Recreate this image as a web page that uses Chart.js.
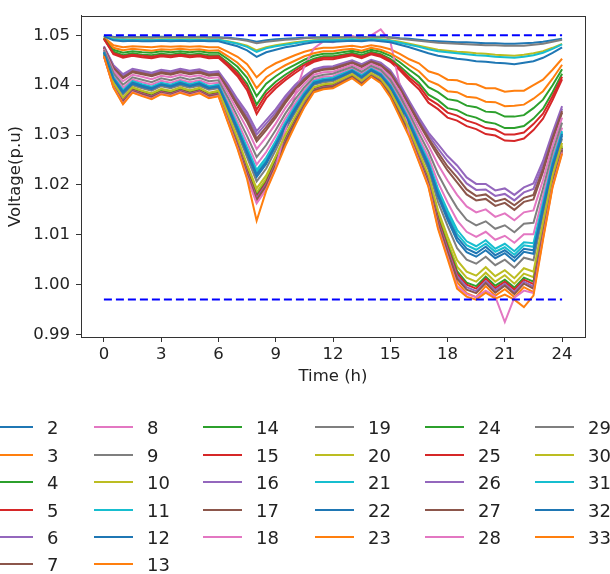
<!DOCTYPE html>
<html>
<head>
<meta charset="utf-8">
<script src="https://cdn.jsdelivr.net/npm/chart.js@4.4.0/dist/chart.umd.min.js"></script>
<style>
  body { margin: 0; background: #fff; width: 610px; height: 574px; overflow: hidden; position: relative;
         font-family: "DejaVu Sans", sans-serif; color: #222; }
  #wrap { position: absolute; left: 0; top: 0; width: 610px; height: 395px; }
  #leyenda { position: absolute; left: 0; top: 0; width: 610px; height: 574px; }
  .item { position: absolute; height: 22px; display: flex; align-items: center; font-size: 18px; white-space: nowrap; }
  .item .linea { display: inline-block; width: 39px; height: 2.5px; margin-right: 14px; }
</style>
</head>
<body>
<div id="wrap"><canvas id="grafico"></canvas></div>
<div id="leyenda"></div>
<script>
// hora del día (h)
const hours = [0, 0.5, 1, 1.5, 2, 2.5, 3, 3.5, 4, 4.5, 5, 5.5, 6, 6.5, 7, 7.5, 8, 8.5, 9, 9.5, 10, 10.5,
  11, 11.5, 12, 12.5, 13, 13.5, 14, 14.5, 15, 15.5, 16, 16.5, 17, 17.5, 18, 18.5, 19, 19.5, 20, 20.5,
  21, 21.5, 22, 22.5, 23, 23.5, 24];

const xTicks = [0, 3, 6, 9, 12, 15, 18, 21, 24];
const yTicks = [0.99, 1.00, 1.01, 1.02, 1.03, 1.04, 1.05];

// límites de tensión (p.u)
const upperLimit = 1.05;
const lowerLimit = 0.997;

// tensión por barra (p.u)
const bus2 = [1.0499,1.0497,1.0496,1.0497,1.0496,1.0496,1.0497,1.0496,1.0497,1.0496,1.0497,1.0496,1.0496,
  1.0495,1.0493,1.0491,1.0487,1.0490,1.0492,1.0493,1.0494,1.0495,1.0496,1.0496,1.0496,
  1.0496,1.0497,1.0496,1.0497,1.0497,1.0496,1.0494,1.0493,1.0491,1.0489,1.0488,1.0487,
  1.0486,1.0486,1.0485,1.0484,1.0484,1.0483,1.0483,1.0484,1.0485,1.0487,1.0490,1.0493];
const bus3 = [1.0496,1.0480,1.0476,1.0478,1.0477,1.0476,1.0478,1.0477,1.0478,1.0477,1.0478,1.0476,1.0476,
  1.0467,1.0457,1.0442,1.0416,1.0433,1.0444,1.0452,1.0460,1.0467,1.0472,1.0475,1.0475,
  1.0477,1.0479,1.0476,1.0480,1.0477,1.0472,1.0463,1.0452,1.0444,1.0428,1.0422,1.0411,
  1.0410,1.0403,1.0402,1.0394,1.0394,1.0387,1.0389,1.0389,1.0400,1.0411,1.0431,1.0453];
const bus4 = [1.0495,1.0471,1.0465,1.0468,1.0466,1.0465,1.0468,1.0466,1.0468,1.0466,1.0468,1.0465,1.0465,
  1.0452,1.0437,1.0415,1.0378,1.0403,1.0418,1.0431,1.0441,1.0451,1.0459,1.0463,1.0463,
  1.0466,1.0469,1.0465,1.0471,1.0467,1.0459,1.0446,1.0431,1.0417,1.0396,1.0386,1.0372,
  1.0369,1.0359,1.0356,1.0347,1.0346,1.0337,1.0337,1.0340,1.0354,1.0371,1.0400,1.0432];
const bus5 = [1.0493,1.0462,1.0455,1.0459,1.0456,1.0454,1.0458,1.0456,1.0459,1.0456,1.0458,1.0454,1.0455,
  1.0438,1.0418,1.0390,1.0342,1.0374,1.0394,1.0410,1.0424,1.0437,1.0447,1.0452,1.0452,
  1.0456,1.0460,1.0454,1.0462,1.0457,1.0447,1.0430,1.0410,1.0392,1.0365,1.0352,1.0335,
  1.0329,1.0318,1.0312,1.0302,1.0299,1.0289,1.0288,1.0293,1.0310,1.0333,1.0370,1.0412];
const bus6 = [1.0478,1.0440,1.0422,1.0433,1.0429,1.0425,1.0431,1.0428,1.0433,1.0429,1.0432,1.0426,1.0428,
  1.0402,1.0372,1.0345,1.0308,1.0330,1.0352,1.0378,1.0400,1.0418,1.0432,1.0437,1.0438,
  1.0444,1.0450,1.0442,1.0451,1.0445,1.0430,1.0402,1.0368,1.0335,1.0305,1.0282,1.0258,
  1.0239,1.0215,1.0202,1.0202,1.0189,1.0193,1.0180,1.0195,1.0203,1.0248,1.0305,1.0358];
const bus7 = [1.0475,1.0434,1.0414,1.0426,1.0422,1.0418,1.0424,1.0421,1.0426,1.0422,1.0425,1.0419,1.0421,
  1.0391,1.0358,1.0326,1.0287,1.0310,1.0335,1.0364,1.0389,1.0409,1.0426,1.0431,1.0432,
  1.0438,1.0445,1.0436,1.0446,1.0439,1.0422,1.0393,1.0358,1.0323,1.0290,1.0258,1.0229,
  1.0205,1.0181,1.0169,1.0172,1.0158,1.0164,1.0150,1.0166,1.0171,1.0226,1.0290,1.0345];
const bus8 = [1.0469,1.0420,1.0395,1.0411,1.0406,1.0401,1.0409,1.0405,1.0411,1.0406,1.0410,1.0403,1.0405,
  1.0367,1.0327,1.0285,1.0241,1.0266,1.0298,1.0333,1.0363,1.0390,1.0411,1.0417,1.0418,
  1.0426,1.0434,1.0423,1.0436,1.0427,1.0406,1.0372,1.0336,1.0295,1.0256,1.0205,1.0165,
  1.0129,1.0106,1.0096,1.0106,1.0090,1.0098,1.0084,1.0101,1.0101,1.0177,1.0255,1.0315];
const bus9 = [1.0464,1.0409,1.0381,1.0400,1.0394,1.0389,1.0398,1.0394,1.0400,1.0395,1.0399,1.0391,1.0394,
  1.0350,1.0304,1.0255,1.0207,1.0233,1.0270,1.0310,1.0344,1.0376,1.0401,1.0406,1.0408,
  1.0417,1.0426,1.0413,1.0428,1.0417,1.0393,1.0357,1.0319,1.0274,1.0231,1.0166,1.0118,
  1.0073,1.0050,1.0042,1.0056,1.0039,1.0050,1.0034,1.0054,1.0049,1.0141,1.0230,1.0293];
const bus10 = [1.0461,1.0403,1.0372,1.0393,1.0387,1.0381,1.0390,1.0386,1.0393,1.0387,1.0392,1.0383,1.0386,
  1.0338,1.0289,1.0235,1.0185,1.0212,1.0252,1.0295,1.0332,1.0367,1.0394,1.0400,1.0401,
  1.0411,1.0420,1.0407,1.0423,1.0411,1.0385,1.0347,1.0308,1.0261,1.0215,1.0141,1.0087,
  1.0036,1.0014,1.0006,1.0024,1.0006,1.0019,1.0002,1.0022,1.0015,1.0117,1.0214,1.0279];
const bus11 = [1.0467,1.0415,1.0388,1.0406,1.0400,1.0395,1.0404,1.0400,1.0406,1.0401,1.0405,1.0397,1.0400,
  1.0359,1.0316,1.0271,1.0225,1.0250,1.0285,1.0322,1.0354,1.0383,1.0406,1.0412,1.0413,
  1.0422,1.0430,1.0418,1.0432,1.0422,1.0400,1.0365,1.0328,1.0285,1.0244,1.0187,1.0143,
  1.0102,1.0079,1.0070,1.0082,1.0066,1.0075,1.0060,1.0079,1.0076,1.0160,1.0243,1.0305];
const bus12 = [1.0466,1.0412,1.0385,1.0403,1.0397,1.0392,1.0401,1.0397,1.0403,1.0398,1.0402,1.0394,1.0397,
  1.0354,1.0310,1.0263,1.0216,1.0242,1.0278,1.0316,1.0349,1.0380,1.0403,1.0409,1.0411,
  1.0419,1.0428,1.0416,1.0430,1.0420,1.0397,1.0361,1.0323,1.0280,1.0237,1.0177,1.0130,
  1.0088,1.0065,1.0056,1.0069,1.0053,1.0063,1.0047,1.0066,1.0062,1.0150,1.0237,1.0299];
const bus13 = [1.0459,1.0397,1.0364,1.0387,1.0380,1.0374,1.0384,1.0380,1.0387,1.0381,1.0386,1.0376,1.0380,
  1.0328,1.0276,1.0217,1.0166,1.0194,1.0237,1.0282,1.0321,1.0358,1.0388,1.0394,1.0396,
  1.0406,1.0415,1.0402,1.0418,1.0406,1.0378,1.0339,1.0299,1.0250,1.0200,1.0119,1.0060,
  1.0005,0.9983,0.9975,0.9997,0.9978,0.9991,0.9975,0.9995,0.9985,1.0096,1.0199,1.0267];
const bus14 = [1.0461,1.0401,1.0370,1.0391,1.0385,1.0379,1.0388,1.0384,1.0391,1.0385,1.0390,1.0381,1.0384,
  1.0335,1.0285,1.0229,1.0179,1.0206,1.0248,1.0291,1.0329,1.0364,1.0392,1.0398,1.0400,
  1.0409,1.0419,1.0405,1.0421,1.0409,1.0383,1.0345,1.0305,1.0258,1.0210,1.0134,1.0079,
  1.0027,1.0004,0.9997,1.0016,0.9998,1.0010,0.9994,1.0014,1.0006,1.0111,1.0209,1.0275];
const bus15 = [1.0460,1.0400,1.0369,1.0390,1.0384,1.0378,1.0387,1.0383,1.0390,1.0384,1.0389,1.0380,1.0383,
  1.0333,1.0283,1.0227,1.0176,1.0204,1.0245,1.0289,1.0327,1.0363,1.0391,1.0397,1.0399,
  1.0408,1.0418,1.0405,1.0421,1.0409,1.0382,1.0343,1.0304,1.0256,1.0208,1.0131,1.0075,
  1.0022,1.0000,0.9992,1.0012,0.9993,1.0006,0.9990,1.0010,1.0001,1.0107,1.0207,1.0273];
const bus16 = [1.0460,1.0399,1.0367,1.0389,1.0383,1.0377,1.0386,1.0382,1.0389,1.0383,1.0388,1.0379,1.0382,
  1.0332,1.0281,1.0224,1.0173,1.0201,1.0243,1.0287,1.0325,1.0362,1.0390,1.0396,1.0398,
  1.0408,1.0417,1.0404,1.0420,1.0408,1.0381,1.0342,1.0302,1.0254,1.0206,1.0127,1.0071,
  1.0017,0.9995,0.9987,1.0007,0.9989,1.0002,0.9985,1.0006,0.9996,1.0104,1.0205,1.0272];
const bus17 = [1.0459,1.0398,1.0366,1.0388,1.0382,1.0376,1.0385,1.0381,1.0388,1.0382,1.0387,1.0378,1.0381,
  1.0330,1.0279,1.0221,1.0170,1.0198,1.0240,1.0285,1.0324,1.0360,1.0389,1.0395,1.0397,
  1.0407,1.0417,1.0403,1.0419,1.0407,1.0380,1.0341,1.0301,1.0252,1.0204,1.0124,1.0066,
  1.0012,0.9990,0.9983,1.0003,0.9984,0.9998,0.9981,1.0002,0.9992,1.0101,1.0203,1.0270];
const bus18 = [1.0458,1.0396,1.0363,1.0386,1.0379,1.0373,1.0383,1.0379,1.0386,1.0380,1.0385,1.0375,1.0379,
  1.0327,1.0274,1.0215,1.0163,1.0191,1.0234,1.0310,1.0380,1.0438,1.0474,1.0488,1.0486,
  1.0494,1.0499,1.0491,1.0500,1.0512,1.0488,1.0400,1.0298,1.0248,1.0198,1.0115,1.0056,
  0.9997,0.9981,0.9975,0.9988,0.9976,0.9925,0.9974,0.9988,0.9983,1.0093,1.0197,1.0265];
const bus19 = [1.0499,1.0496,1.0495,1.0496,1.0496,1.0495,1.0496,1.0496,1.0496,1.0496,1.0496,1.0495,1.0495,
  1.0494,1.0492,1.0489,1.0484,1.0487,1.0489,1.0491,1.0492,1.0494,1.0495,1.0495,1.0495,
  1.0496,1.0496,1.0495,1.0496,1.0496,1.0495,1.0493,1.0491,1.0489,1.0487,1.0485,1.0484,
  1.0483,1.0482,1.0481,1.0480,1.0480,1.0479,1.0479,1.0479,1.0481,1.0483,1.0487,1.0491];
const bus20 = [1.0499,1.0493,1.0491,1.0492,1.0492,1.0491,1.0492,1.0492,1.0492,1.0492,1.0492,1.0491,1.0491,
  1.0488,1.0484,1.0479,1.0470,1.0476,1.0480,1.0483,1.0486,1.0488,1.0490,1.0491,1.0491,
  1.0492,1.0492,1.0491,1.0493,1.0492,1.0490,1.0487,1.0483,1.0479,1.0475,1.0471,1.0469,
  1.0467,1.0466,1.0464,1.0463,1.0461,1.0460,1.0459,1.0461,1.0464,1.0468,1.0475,1.0483];
const bus21 = [1.0499,1.0492,1.0491,1.0491,1.0491,1.0490,1.0491,1.0491,1.0491,1.0491,1.0491,1.0490,1.0491,
  1.0487,1.0483,1.0477,1.0467,1.0474,1.0478,1.0481,1.0484,1.0487,1.0489,1.0490,1.0490,
  1.0491,1.0492,1.0490,1.0492,1.0491,1.0489,1.0485,1.0481,1.0477,1.0472,1.0468,1.0466,
  1.0464,1.0462,1.0460,1.0459,1.0457,1.0456,1.0455,1.0457,1.0460,1.0465,1.0473,1.0482];
const bus22 = [1.0498,1.0490,1.0488,1.0489,1.0488,1.0488,1.0489,1.0488,1.0489,1.0488,1.0489,1.0488,1.0488,
  1.0483,1.0478,1.0470,1.0457,1.0466,1.0471,1.0476,1.0479,1.0483,1.0486,1.0487,1.0487,
  1.0488,1.0489,1.0488,1.0490,1.0488,1.0486,1.0481,1.0476,1.0470,1.0464,1.0459,1.0456,
  1.0453,1.0451,1.0448,1.0447,1.0445,1.0444,1.0442,1.0445,1.0448,1.0455,1.0465,1.0476];
const bus23 = [1.0495,1.0475,1.0470,1.0473,1.0471,1.0469,1.0472,1.0471,1.0473,1.0471,1.0472,1.0469,1.0470,
  1.0458,1.0445,1.0426,1.0394,1.0416,1.0429,1.0440,1.0449,1.0458,1.0464,1.0468,1.0468,
  1.0471,1.0473,1.0469,1.0475,1.0471,1.0464,1.0453,1.0440,1.0428,1.0409,1.0401,1.0388,
  1.0386,1.0377,1.0375,1.0367,1.0366,1.0358,1.0359,1.0361,1.0373,1.0388,1.0413,1.0441];
const bus24 = [1.0494,1.0467,1.0460,1.0464,1.0461,1.0460,1.0463,1.0461,1.0464,1.0461,1.0463,1.0460,1.0460,
  1.0445,1.0428,1.0403,1.0361,1.0389,1.0407,1.0421,1.0433,1.0445,1.0453,1.0458,1.0458,
  1.0461,1.0465,1.0460,1.0467,1.0462,1.0453,1.0438,1.0421,1.0405,1.0381,1.0370,1.0354,
  1.0350,1.0340,1.0335,1.0326,1.0323,1.0314,1.0314,1.0318,1.0333,1.0353,1.0386,1.0423];
const bus25 = [1.0493,1.0464,1.0458,1.0461,1.0459,1.0457,1.0460,1.0459,1.0461,1.0459,1.0460,1.0457,1.0458,
  1.0442,1.0423,1.0397,1.0351,1.0382,1.0400,1.0415,1.0429,1.0441,1.0450,1.0455,1.0455,
  1.0459,1.0462,1.0457,1.0464,1.0460,1.0450,1.0434,1.0415,1.0399,1.0373,1.0361,1.0345,
  1.0339,1.0329,1.0323,1.0314,1.0311,1.0301,1.0301,1.0305,1.0322,1.0343,1.0378,1.0417];
const bus26 = [1.0477,1.0438,1.0419,1.0431,1.0426,1.0422,1.0429,1.0425,1.0431,1.0426,1.0430,1.0423,1.0425,
  1.0398,1.0367,1.0338,1.0301,1.0323,1.0346,1.0373,1.0396,1.0415,1.0430,1.0435,1.0436,
  1.0442,1.0448,1.0440,1.0449,1.0443,1.0427,1.0399,1.0364,1.0331,1.0300,1.0273,1.0248,
  1.0227,1.0203,1.0190,1.0191,1.0178,1.0182,1.0169,1.0185,1.0192,1.0240,1.0299,1.0353];
const bus27 = [1.0476,1.0435,1.0416,1.0428,1.0424,1.0420,1.0426,1.0423,1.0428,1.0424,1.0427,1.0421,1.0423,
  1.0394,1.0362,1.0332,1.0293,1.0316,1.0340,1.0368,1.0392,1.0412,1.0427,1.0432,1.0434,
  1.0440,1.0446,1.0438,1.0448,1.0441,1.0425,1.0395,1.0361,1.0326,1.0294,1.0265,1.0237,
  1.0215,1.0191,1.0178,1.0181,1.0167,1.0172,1.0159,1.0174,1.0180,1.0232,1.0294,1.0348];
const bus28 = [1.0473,1.0429,1.0408,1.0421,1.0417,1.0412,1.0419,1.0416,1.0421,1.0417,1.0420,1.0414,1.0416,
  1.0384,1.0348,1.0313,1.0272,1.0296,1.0323,1.0354,1.0380,1.0403,1.0421,1.0426,1.0427,
  1.0434,1.0441,1.0432,1.0443,1.0435,1.0417,1.0386,1.0351,1.0314,1.0279,1.0241,1.0209,
  1.0180,1.0157,1.0145,1.0151,1.0136,1.0143,1.0129,1.0145,1.0149,1.0210,1.0279,1.0335];
const bus29 = [1.0471,1.0424,1.0401,1.0416,1.0411,1.0406,1.0414,1.0410,1.0416,1.0411,1.0415,1.0408,1.0410,
  1.0375,1.0337,1.0298,1.0256,1.0280,1.0310,1.0343,1.0371,1.0396,1.0416,1.0421,1.0423,
  1.0430,1.0437,1.0427,1.0439,1.0431,1.0411,1.0379,1.0343,1.0304,1.0267,1.0222,1.0186,
  1.0154,1.0130,1.0119,1.0127,1.0112,1.0119,1.0105,1.0122,1.0124,1.0193,1.0266,1.0325];
const bus30 = [1.0462,1.0405,1.0375,1.0396,1.0389,1.0384,1.0393,1.0389,1.0396,1.0390,1.0395,1.0385,1.0389,
  1.0342,1.0294,1.0241,1.0193,1.0219,1.0258,1.0300,1.0336,1.0370,1.0396,1.0402,1.0404,
  1.0413,1.0422,1.0409,1.0424,1.0413,1.0388,1.0351,1.0312,1.0266,1.0220,1.0149,1.0097,
  1.0049,1.0026,1.0018,1.0035,1.0017,1.0029,1.0013,1.0033,1.0026,1.0125,1.0219,1.0284];
const bus31 = [1.0467,1.0416,1.0390,1.0408,1.0402,1.0397,1.0405,1.0401,1.0408,1.0402,1.0407,1.0398,1.0401,
  1.0361,1.0319,1.0275,1.0230,1.0255,1.0288,1.0325,1.0357,1.0385,1.0408,1.0413,1.0415,
  1.0423,1.0431,1.0420,1.0433,1.0423,1.0401,1.0367,1.0330,1.0288,1.0247,1.0192,1.0149,
  1.0110,1.0087,1.0077,1.0089,1.0072,1.0082,1.0067,1.0085,1.0083,1.0164,1.0247,1.0308];
const bus32 = [1.0466,1.0413,1.0387,1.0405,1.0399,1.0394,1.0402,1.0398,1.0405,1.0399,1.0404,1.0395,1.0398,
  1.0357,1.0313,1.0267,1.0221,1.0246,1.0281,1.0319,1.0352,1.0381,1.0405,1.0410,1.0412,
  1.0420,1.0429,1.0417,1.0431,1.0421,1.0398,1.0363,1.0326,1.0282,1.0241,1.0182,1.0136,
  1.0095,1.0072,1.0063,1.0076,1.0059,1.0069,1.0054,1.0072,1.0069,1.0155,1.0240,1.0302];
const bus33 = [1.0458,1.0395,1.0362,1.0385,1.0378,1.0372,1.0382,1.0378,1.0385,1.0379,1.0384,1.0374,1.0378,
  1.0325,1.0272,1.0212,1.0128,1.0188,1.0232,1.0278,1.0318,1.0356,1.0386,1.0392,1.0394,
  1.0404,1.0414,1.0400,1.0417,1.0404,1.0376,1.0336,1.0296,1.0246,1.0196,1.0112,1.0052,
  0.9992,0.9976,0.9970,0.9984,0.9972,0.9980,0.9970,0.9955,0.9978,1.0090,1.0195,1.0263];

const buses = [2, 3, 4, 5, 6, 7, 8, 9, 10, 11, 12, 13, 14, 15, 16, 17, 18, 19, 20, 21, 22, 23, 24, 25,
  26, 27, 28, 29, 30, 31, 32, 33];
const tensiones = [bus2, bus3, bus4, bus5, bus6, bus7, bus8, bus9, bus10, bus11, bus12, bus13, bus14,
  bus15, bus16, bus17, bus18, bus19, bus20, bus21, bus22, bus23, bus24, bus25, bus26, bus27, bus28,
  bus29, bus30, bus31, bus32, bus33];

// paleta tab10, se repite cada 10 barras
const colores = ['#1f77b4', '#ff7f0e', '#2ca02c', '#d62728', '#9467bd',
  '#8c564b', '#e377c2', '#7f7f7f', '#bcbd22', '#17becf'];

const datasets = tensiones.map((vals, i) => ({
  label: String(buses[i]),
  data: hours.map((h, j) => ({ x: h, y: vals[j] })),
  borderColor: colores[i % 10],
  borderWidth: 2,
  pointRadius: 0,
  fill: false,
  tension: 0,
  order: tensiones.length - i   // la última barra queda arriba
}));

[upperLimit, lowerLimit].forEach(lim => {
  datasets.push({
    label: 'lim',
    data: [{ x: hours[0], y: lim }, { x: hours[hours.length - 1], y: lim }],
    borderColor: '#0000ff',
    borderWidth: 2,
    borderDash: [8, 4],
    pointRadius: 0,
    fill: false,
    order: -1
  });
});

// marco completo alrededor del área de datos
const marco = {
  id: 'marco',
  afterDraw(chart) {
    const { ctx, chartArea: a } = chart;
    ctx.save();
    ctx.strokeStyle = '#333';
    ctx.lineWidth = 1;
    ctx.strokeRect(Math.round(a.left) + 0.5, Math.round(a.top) + 0.5,
      Math.round(a.right - a.left), Math.round(a.bottom - a.top));
    ctx.restore();
  }
};

const fuente = { family: 'DejaVu Sans', size: 16.5 };
const ejeGrid = { display: true, drawOnChartArea: false, drawTicks: true, tickLength: 5, color: '#333' };

new Chart(document.getElementById('grafico').getContext('2d'), {
  type: 'line',
  data: { datasets },
  options: {
    responsive: true,
    maintainAspectRatio: false,
    animation: false,
    devicePixelRatio: 1,
    layout: { padding: { top: 5, right: 25, left: 0, bottom: 0 } },
    plugins: { legend: { display: false }, tooltip: { enabled: false } },
    scales: {
      x: {
        type: 'linear',
        min: -1.2,
        max: 25.2,
        afterBuildTicks: s => { s.ticks = xTicks.map(v => ({ value: v })); },
        afterFit: s => { s.height = 58; },
        grid: ejeGrid,
        border: { color: '#333', width: 1 },
        ticks: { color: '#222', font: fuente, padding: 3, maxRotation: 0 },
        title: { display: true, text: 'Time (h)', color: '#222', font: fuente, padding: { top: 0, bottom: 8 } }
      },
      y: {
        min: 0.9895,
        max: 1.0539,
        afterBuildTicks: s => { s.ticks = yTicks.map(v => ({ value: v })); },
        afterFit: s => { s.width = 81; },
        grid: ejeGrid,
        border: { color: '#333', width: 1 },
        ticks: { color: '#222', font: fuente, padding: 6, callback: v => v.toFixed(2) },
        title: { display: true, text: 'Voltage(p.u)', color: '#222', font: fuente, padding: { top: 6, bottom: 0 } }
      }
    }
  },
  plugins: [marco]
});

// leyenda en 6 columnas, llenada por columnas como en matplotlib
const colX = [-6, 94, 203, 315, 425, 535];
const filaY = [427, 455, 482, 510, 537, 564];
const porColumna = [6, 6, 5, 5, 5, 5];
const leyenda = document.getElementById('leyenda');
let k = 0;
porColumna.forEach((n, c) => {
  for (let r = 0; r < n; r++, k++) {
    const item = document.createElement('div');
    item.className = 'item';
    item.style.left = colX[c] + 'px';
    item.style.top = (filaY[r] - 11) + 'px';
    const linea = document.createElement('span');
    linea.className = 'linea';
    linea.style.background = colores[k % 10];
    item.appendChild(linea);
    item.appendChild(document.createTextNode(String(buses[k])));
    leyenda.appendChild(item);
  }
});
</script>
</body>
</html>
